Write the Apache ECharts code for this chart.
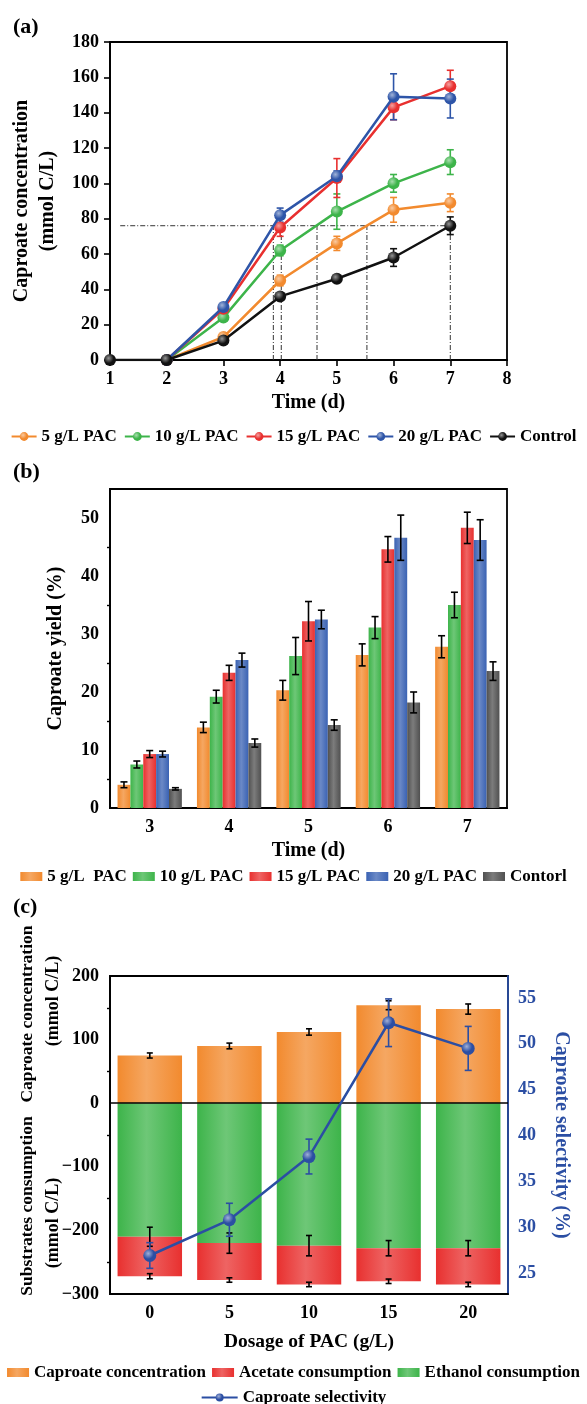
<!DOCTYPE html>
<html><head><meta charset="utf-8">
<script src="https://cdn.jsdelivr.net/npm/echarts@6/dist/echarts.min.js"></script>
<style>
html,body{margin:0;padding:0;background:#fff;width:587px;height:1404px;overflow:hidden}
.c{position:absolute;left:0;width:587px}
</style></head>
<body>
<div id="ca" class="c" style="top:0;height:450px"></div>
<div id="cb" class="c" style="top:450px;height:440px"></div>
<div id="cc" class="c" style="top:890px;height:514px"></div>
<script>
// ---------- Panel (a) data ----------
const daysA = [1, 2, 3, 4, 5, 6, 7];
const namesA = ['5 g/L PAC', '10 g/L PAC', '15 g/L PAC', '20 g/L PAC', 'Control'];
const conc5 = [null, 0, 13, 45, 66, 85, 89];
const conc5Err = [0, 0, 2, 3, 4, 7, 5];
const conc10 = [null, 0, 24, 62, 84, 100, 112];
const conc10Err = [0, 0, 2, 3, 10, 5, 7];
const conc15 = [null, 0, 29, 75, 103, 143, 155];
const conc15Err = [0, 0, 2, 5, 11, 7, 9];
const conc20 = [null, 0, 30, 82, 104, 149, 148];
const conc20Err = [0, 0, 2, 4, 3, 13, 11];
const concCtrl = [0, 0, 11, 36, 46, 58, 76];
const concCtrlErr = [0, 0, 1, 1, 1, 5, 5];
const refLevel = 76;
const refStartDay = 1.18;
const refDays = [3.88, 4.02, 4.65, 5.53, 7.0];
const xTicksA = [1, 8, 1];      // min, max, step
const yTicksA = [0, 180, 20];

// ---------- Panel (b) data ----------
const timesB = ['3', '4', '5', '6', '7'];
const namesB = ['5 g/L  PAC', '10 g/L PAC', '15 g/L PAC', '20 g/L PAC', 'Contorl'];
const yield5 = [4.0, 13.9, 20.3, 26.4, 27.8];
const yield5Err = [0.5, 0.9, 1.7, 1.9, 1.9];
const yield10 = [7.5, 19.2, 26.2, 31.1, 35.0];
const yield10Err = [0.6, 1.1, 3.2, 1.9, 2.2];
const yield15 = [9.3, 23.3, 32.2, 44.6, 48.3];
const yield15Err = [0.6, 1.3, 3.4, 2.2, 2.7];
const yield20 = [9.3, 25.5, 32.5, 46.6, 46.2];
const yield20Err = [0.5, 1.2, 1.6, 3.9, 3.5];
const yieldCtrl = [3.3, 11.2, 14.3, 18.2, 23.6];
const yieldCtrlErr = [0.2, 0.7, 0.9, 1.8, 1.6];
const yTicksB = [0, 55, 10];

// ---------- Panel (c) data ----------
const dosageC = ['0', '5', '10', '15', '20'];
const caproateC = [75, 90, 112, 154, 148];
const caproateCErr = [4, 4.5, 5, 7, 8];
const ethanolC = [-210, -220, -224, -228, -228];
const ethanolCErr = [15, 16, 16, 12, 12];
const acetateC = [-62, -58, -61, -52, -57];
const acetateCErr = [4, 3.5, 3.5, 3.5, 3.5];
const selectivityC = [26.9, 30.8, 37.7, 52.3, 49.5];
const selectivityCErr = [1.4, 1.8, 1.9, 2.6, 2.4];
const yTicksC = [-300, 200, 100];
const selTicks = [25, 30, 35, 40, 45, 50, 55];
const selMinorTicks = [27.5, 32.5, 37.5, 42.5, 47.5, 52.5];
const selRange = [22.7, 57.4];

// ---------- styling ----------
const FF = '"Liberation Serif", "Times New Roman", serif';
const ORANGE = '#F28A2E', GREEN = '#3DB44A', RED = '#E8302F', BLUE = '#2E55A8', BLACK = '#111111', GREY = '#505050';
const SELBLUE = '#2B4EA3';
const TICK = 18, NAME = 20, LEG = 17;
function lighten(hex, t) {
  const n = parseInt(hex.slice(1), 16);
  let r = n >> 16, g = (n >> 8) & 255, b = n & 255;
  r = Math.round(r + (255 - r) * t); g = Math.round(g + (255 - g) * t); b = Math.round(b + (255 - b) * t);
  return 'rgb(' + r + ',' + g + ',' + b + ')';
}
function sphere(c) {
  return {type: 'radial', x: 0.38, y: 0.35, r: 0.7, colorStops: [{offset: 0, color: lighten(c, 0.55)}, {offset: 0.6, color: c}, {offset: 1, color: c}]};
}
function barGrad(c) {
  return {type: 'linear', x: 0, y: 0, x2: 1, y2: 0, colorStops: [{offset: 0, color: c}, {offset: 0.45, color: lighten(c, 0.25)}, {offset: 1, color: c}]};
}
const boldTxt = (size, color) => ({fontFamily: FF, fontWeight: 'bold', fontSize: size, color: color || '#000'});
const axisLineSt = {show: true, lineStyle: {color: '#000', width: 1.8}};

function errSeries(points, color, opt) {
  opt = opt || {};
  return {
    type: 'custom', data: points, z: opt.z || 6, silent: true,
    yAxisIndex: opt.yAxisIndex || 0,
    renderItem: function (params, api) {
      const xv = api.value(0), lo = api.value(1), hi = api.value(2);
      let off = 0;
      if (opt.slot != null) {
        const band = api.size([1, 0])[0];
        const bw = band * (1 - 0.19) / opt.n;
        off = (opt.slot - (opt.n - 1) / 2) * bw;
      }
      const a = api.coord([xv, hi]), b = api.coord([xv, lo]);
      const x = a[0] + off, cw = opt.cap || 3.5;
      const st = {stroke: color, lineWidth: opt.lw || 1.6};
      return {type: 'group', children: [
        {type: 'line', shape: {x1: x, y1: a[1], x2: x, y2: b[1]}, style: st},
        {type: 'line', shape: {x1: x - cw, y1: a[1], x2: x + cw, y2: a[1]}, style: st},
        {type: 'line', shape: {x1: x - cw, y1: b[1], x2: x + cw, y2: b[1]}, style: st}
      ]};
    }
  };
}

// ================= Chart A =================
(function () {
  const chart = echarts.init(document.getElementById('ca'), null, {renderer: 'canvas'});
  const sets = [[conc5, conc5Err, ORANGE], [conc10, conc10Err, GREEN], [conc15, conc15Err, RED], [conc20, conc20Err, BLUE], [concCtrl, concCtrlErr, BLACK]];
  const series = [];
  const refData = [[refStartDay, refLevel, daysA[daysA.length - 1], refLevel]].concat(refDays.map(d => [d, 0, d, refLevel]));
  series.push({
    type: 'custom', data: refData, silent: true, z: 1,
    renderItem: function (params, api) {
      const p1 = api.coord([api.value(0), api.value(1)]), p2 = api.coord([api.value(2), api.value(3)]);
      return {type: 'line', shape: {x1: p1[0], y1: p1[1], x2: p2[0], y2: p2[1]}, style: {stroke: '#333', lineWidth: 1, lineDash: [5, 2, 1, 2]}};
    }
  });
  sets.forEach((s, k) => {
    const pts = [], errs = [];
    daysA.forEach((d, i) => {
      if (s[0][i] != null) {
        pts.push([d, s[0][i]]);
        if (s[1][i] > 0) errs.push([d, s[0][i] - s[1][i], s[0][i] + s[1][i]]);
      }
    });
    series.push({
      name: namesA[k], type: 'line', data: pts, symbol: 'circle', symbolSize: 12, z: 3 + k * 0.1,
      lineStyle: {color: s[2], width: 2.5}, itemStyle: {color: sphere(s[2]), borderWidth: 0},
      emphasis: {disabled: true}
    });
    series.push(errSeries(errs, s[2], {cap: 3.5, lw: 1.6, z: 2}));
  });
  chart.setOption({
    animation: false,
    graphic: [{type: 'text', x: 13, y: 27, style: {text: '(a)', font: 'bold 22px ' + FF, fill: '#000', align: 'left', verticalAlign: 'middle'}}],
    legend: {data: namesA, top: 423, left: 'center', itemWidth: 25, itemHeight: 11, itemGap: 7, textStyle: boldTxt(LEG)},
    grid: {left: 110, top: 42, width: 397, height: 318, show: true, borderColor: '#000', borderWidth: 1.8},
    xAxis: {
      type: 'value', min: xTicksA[0], max: xTicksA[1], interval: xTicksA[2],
      name: 'Time (d)', nameLocation: 'middle', nameGap: 30, nameTextStyle: boldTxt(NAME),
      axisLine: axisLineSt, axisTick: {length: 6, lineStyle: {color: '#000', width: 1.6}},
      axisLabel: Object.assign({margin: 10}, boldTxt(TICK)), splitLine: {show: false}
    },
    yAxis: {
      type: 'value', min: yTicksA[0], max: yTicksA[1], interval: yTicksA[2],
      name: 'Caproate concentration\n(mmol C/L)', nameLocation: 'middle', nameGap: 44,
      nameTextStyle: Object.assign({lineHeight: 26}, boldTxt(NAME)),
      axisLine: axisLineSt, axisTick: {length: 6, lineStyle: {color: '#000', width: 1.6}},
      axisLabel: Object.assign({margin: 11}, boldTxt(TICK)), splitLine: {show: false}
    },
    series: series
  });
})();

// ================= Chart B =================
(function () {
  const chart = echarts.init(document.getElementById('cb'), null, {renderer: 'canvas'});
  const sets = [[yield5, yield5Err, ORANGE], [yield10, yield10Err, GREEN], [yield15, yield15Err, RED], [yield20, yield20Err, '#3A62B3'], [yieldCtrl, yieldCtrlErr, GREY]];
  const series = [];
  sets.forEach((s, k) => {
    series.push({
      name: namesB[k], type: 'bar', data: s[0], barGap: '0%', barCategoryGap: '19%',
      itemStyle: {color: barGrad(s[2])}, emphasis: {disabled: true}
    });
  });
  sets.forEach((s, k) => {
    series.push(errSeries(s[0].map((v, i) => [i, v - s[1][i], v + s[1][i]]), '#000', {slot: k, n: 5, cap: 3.5, lw: 1.6}));
  });
  chart.setOption({
    animation: false,
    graphic: [{type: 'text', x: 13, y: 22, style: {text: '(b)', font: 'bold 22px ' + FF, fill: '#000', align: 'left', verticalAlign: 'middle'}}],
    legend: {data: namesB, top: 413, left: 'center', icon: 'rect', itemWidth: 22, itemHeight: 9, itemGap: 6, textStyle: boldTxt(LEG)},
    grid: {left: 110, top: 39, width: 397, height: 319, show: true, borderColor: '#000', borderWidth: 1.8},
    xAxis: {
      type: 'category', data: timesB,
      name: 'Time (d)', nameLocation: 'middle', nameGap: 29, nameTextStyle: boldTxt(NAME),
      axisLine: axisLineSt, axisTick: {length: 5, lineStyle: {color: '#000', width: 1.6}},
      axisLabel: Object.assign({margin: 10}, boldTxt(TICK))
    },
    yAxis: {
      type: 'value', min: yTicksB[0], max: yTicksB[1], interval: yTicksB[2],
      name: 'Caproate yield (%)', nameLocation: 'middle', nameGap: 44, nameTextStyle: boldTxt(NAME),
      axisLine: axisLineSt, axisTick: {length: 6, lineStyle: {color: '#000', width: 1.6}},
      minorTick: {show: true, splitNumber: 2, length: 3, lineStyle: {color: '#000', width: 1.4}},
      axisLabel: Object.assign({margin: 11, showMaxLabel: false}, boldTxt(TICK)), splitLine: {show: false}, minorSplitLine: {show: false}
    },
    series: series
  });
})();

// ================= Chart C =================
(function () {
  const chart = echarts.init(document.getElementById('cc'), null, {renderer: 'canvas'});
  const total = ethanolC.map((v, i) => v + acetateC[i]);
  const series = [
    {name: 'Caproate concentration', type: 'bar', stack: 's', data: caproateC, barCategoryGap: '19%', itemStyle: {color: barGrad(ORANGE)}, emphasis: {disabled: true},
      markLine: {silent: true, symbol: 'none', label: {show: false}, lineStyle: {color: '#000', type: 'solid', width: 1.6}, data: [{yAxis: 0}]}},
    {name: 'Ethanol consumption', type: 'bar', stack: 's', data: ethanolC, barCategoryGap: '19%', itemStyle: {color: barGrad(GREEN)}, emphasis: {disabled: true}},
    {name: 'Acetate consumption', type: 'bar', stack: 's', data: acetateC, barCategoryGap: '19%', itemStyle: {color: barGrad(RED)}, emphasis: {disabled: true}},
    errSeries(caproateC.map((v, i) => [i, v - caproateCErr[i], v + caproateCErr[i]]), '#000', {cap: 3, lw: 1.6}),
    errSeries(ethanolC.map((v, i) => [i, v - ethanolCErr[i], v + ethanolCErr[i]]), '#000', {cap: 3, lw: 1.6}),
    errSeries(total.map((v, i) => [i, v - acetateCErr[i], v + acetateCErr[i]]), '#000', {cap: 3, lw: 1.6}),
    {name: 'Caproate selectivity', type: 'line', yAxisIndex: 1, data: selectivityC, symbol: 'circle', symbolSize: 13, z: 8,
      lineStyle: {color: SELBLUE, width: 2.5}, itemStyle: {color: sphere(SELBLUE)}, emphasis: {disabled: true}},
    errSeries(selectivityC.map((v, i) => [i, v - selectivityCErr[i], v + selectivityCErr[i]]), SELBLUE, {cap: 3.5, lw: 1.6, yAxisIndex: 1, z: 7})
  ];
  const t = (text, x, y, size, rot) => ({type: 'text', x: x, y: y, rotation: rot || 0, style: {text: text, font: 'bold ' + size + 'px ' + FF, fill: '#000', align: rot ? 'center' : 'left', verticalAlign: 'middle'}});
  chart.setOption({
    animation: false,
    graphic: [
      t('(c)', 13, 17, 22),
      t('Caproate concentration', 27, 124, 17.5, Math.PI / 2),
      t('Substrates consumption', 27, 316, 17.5, Math.PI / 2),
      t('(mmol C/L)', 53, 111, 18, Math.PI / 2),
      t('(mmol C/L)', 53, 333, 18, Math.PI / 2)
    ],
    legend: [
      {data: ['Caproate concentration', 'Acetate consumption', 'Ethanol consumption'], top: 469, left: 'center', icon: 'rect', itemWidth: 22, itemHeight: 9, itemGap: 6, textStyle: boldTxt(LEG)},
      {data: ['Caproate selectivity'], top: 494, left: 'center', itemWidth: 36, itemHeight: 10, textStyle: boldTxt(LEG)}
    ],
    grid: {left: 110, top: 86, width: 398, height: 318, show: true, borderColor: '#000', borderWidth: 1.8},
    xAxis: {
      type: 'category', data: dosageC,
      name: 'Dosage of PAC (g/L)', nameLocation: 'middle', nameGap: 38, nameTextStyle: boldTxt(19.5),
      axisLine: {show: true, onZero: false, lineStyle: {color: '#000', width: 1.8}},
      axisTick: {alignWithLabel: true, length: 5, lineStyle: {color: '#000', width: 1.6}},
      axisLabel: Object.assign({margin: 10}, boldTxt(TICK))
    },
    yAxis: [
      {
        type: 'value', min: yTicksC[0], max: yTicksC[1], interval: yTicksC[2],
        axisLine: {show: true, onZero: false, lineStyle: {color: '#000', width: 1.8}},
        axisTick: {length: 6, lineStyle: {color: '#000', width: 1.6}},
        minorTick: {show: true, splitNumber: 2, length: 3, lineStyle: {color: '#000', width: 1.4}},
        axisLabel: Object.assign({margin: 11, formatter: v => v < 0 ? '\u2212' + Math.abs(v) : String(v)}, boldTxt(TICK)),
        splitLine: {show: false}, minorSplitLine: {show: false}
      },
      {
        type: 'value', position: 'right', min: selRange[0], max: selRange[1],
        name: 'Caproate selectivity (%)', nameLocation: 'middle', nameRotate: -90, nameGap: 43, nameTextStyle: boldTxt(NAME, SELBLUE),
        axisLine: {show: true, onZero: false, lineStyle: {color: SELBLUE, width: 1.8}},
        axisTick: {customValues: selTicks, length: 6, lineStyle: {color: SELBLUE, width: 1.6}},
        axisLabel: Object.assign({margin: 10, customValues: selTicks}, boldTxt(TICK, SELBLUE)),
        splitLine: {show: false}
      },
      {
        type: 'value', position: 'right', min: selRange[0], max: selRange[1],
        axisLine: {show: false, onZero: false},
        axisTick: {customValues: selMinorTicks, length: 3, lineStyle: {color: SELBLUE, width: 1.4}},
        axisLabel: {show: false}, splitLine: {show: false}
      }
    ],
    series: series
  });
})();
</script>
</body></html>
